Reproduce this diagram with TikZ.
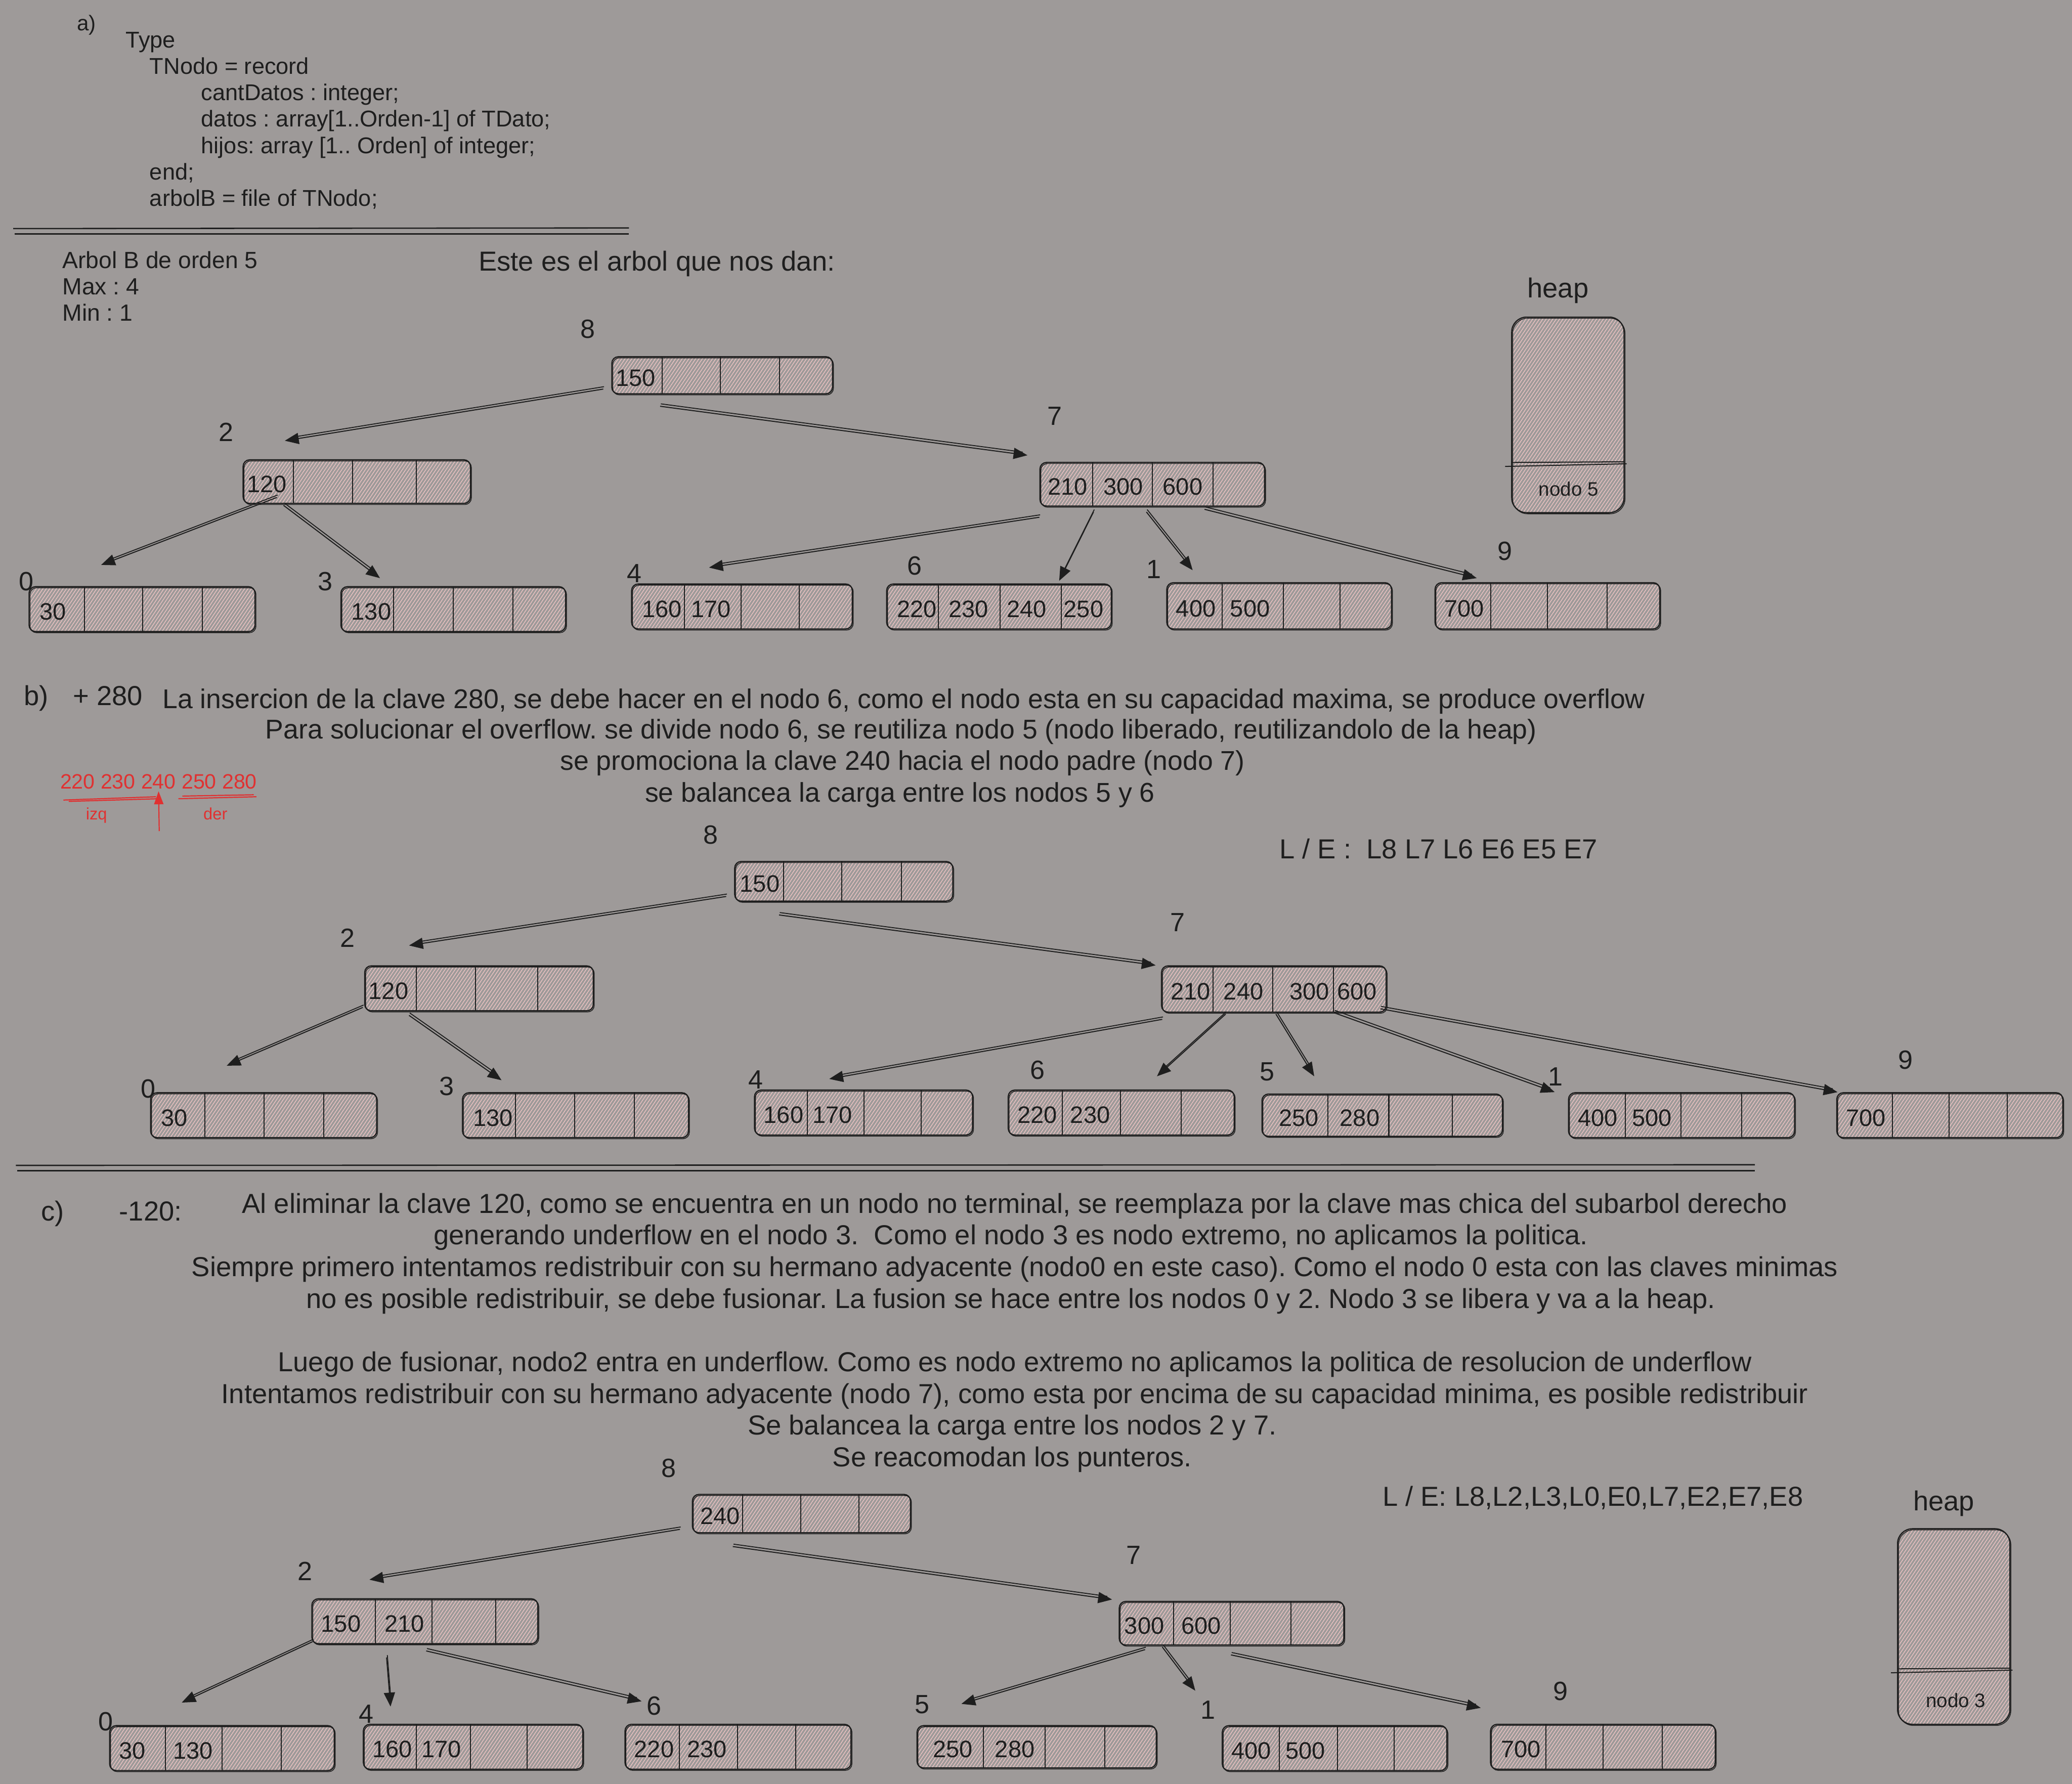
\documentclass[tikz,border=0pt]{standalone}
\usepackage{fontspec}
\setmainfont{Liberation Sans}
\usetikzlibrary{fit,arrows.meta,patterns.meta}
\definecolor{bg}{HTML}{9E9A99}
\definecolor{ink}{HTML}{1E1E1E}
\definecolor{hatch}{HTML}{F6C8C8}
\definecolor{redink}{HTML}{E03131}
\frenchspacing

\newcommand\fcode{\fontsize{12.3}{15}\selectfont}
\newcommand\fbody{\fontsize{14.8}{17}\selectfont}
\newcommand\fbodyb{\fontsize{14.6}{17}\selectfont}
\newcommand\flabel{\fontsize{14.2}{17}\selectfont}
\newcommand\fkey{\fontsize{12.8}{15}\selectfont}
\newcommand\fsmall{\fontsize{10.5}{12}\selectfont}
\newcommand\fred{\fontsize{11.2}{13}\selectfont}
\newcommand\ftiny{\fontsize{8.9}{10}\selectfont}

\tikzset{
  bbox/.style={draw=ink, line width=0.65pt, rounded corners=3.5pt, inner sep=0pt,
    pattern={Lines[angle=56,distance=1.5pt,line width=0.32pt]}, pattern color=hatch,
    postaction={draw=ink, line width=0.4pt, transform canvas={shift={(0.5pt,-0.6pt)}}}},
  hbox/.style={bbox, rounded corners=8pt},
  divline/.style={draw=ink, line width=0.55pt},
  keytext/.style={font=\fkey, text=ink, inner sep=0pt},
  lbl/.style={font=\flabel, text=ink, inner sep=0pt},
  txt/.style={font=\fbody, text=ink, inner sep=0pt, anchor=base west},
  ctxt/.style={font=\fbody, text=ink, inner sep=0pt, anchor=base},
  code/.style={font=\fcode, text=ink, inner sep=0pt, anchor=base west},
  smalltxt/.style={font=\fsmall, text=ink, inner sep=0pt},
  redtxt/.style={font=\fred, text=redink, inner sep=1pt},
  redsmall/.style={font=\ftiny, text=redink, inner sep=0pt},
  redline/.style={draw=redink, line width=0.6pt},
  redarrow/.style={draw=redink, line width=0.6pt, -{Triangle[length=7pt,width=5pt]}},
  rule/.style={draw=ink, line width=0.7pt},
  conn/.style={draw=ink, line width=0.55pt, -{Triangle[length=7.5pt,width=6pt]},
    postaction={draw=ink, line width=0.5pt, -, shorten >=3pt, transform canvas={shift={(0.4pt,1.3pt)}}}},
}

\newcommand\bnode[7]{%
  \node[bbox, fit={(#2,#3)(#4,#5)}] (#1) {};
  \foreach \dx in {#6} {\draw[divline] (\dx,#3) -- (\dx,#5);}
  \foreach \kx/\kt [count=\ki] in {#7} {\node[keytext] (#1k\ki) at (\kx,{(#3+#5)/2+2}) {\kt};}
}

\begin{document}
\begin{tikzpicture}[x=0.025cm,y=-0.025cm]
\path[use as bounding box, fill=bg] (0,0) rectangle (1568,1350);

% ---------------- a) ----------------
\node[code, font=\fontsize{11.5}{13}\selectfont] (ta) at (58,23) {a)};
\node[code] (c1) at (95,36) {Type};
\node[code] (c2) at (113,56) {TNodo = record};
\node[code] (c3) at (152,76) {cantDatos : integer;};
\node[code] (c4) at (152,96) {datos : array[1..Orden-1] of TDato;};
\node[code] (c5) at (152,116) {hijos: array [1.. Orden] of integer;};
\node[code] (c6) at (113,136) {end;};
\node[code] (c7) at (113,156) {arbolB = file of TNodo;};
\draw[rule] (10,173) -- (476,172.5);
\draw[rule] (11,177) -- (476,177);

\node[code, font=\fontsize{12.6}{15}\selectfont] (o1) at (47,203) {Arbol B de orden 5};
\node[code, font=\fontsize{12.6}{15}\selectfont] (o2) at (47,223) {Max : 4};
\node[code, font=\fontsize{12.6}{15}\selectfont] (o3) at (47,243) {Min : 1};
\node[txt] (este) at (362,205) {Este es el arbol que nos dan:};

\node[lbl, font=\fbody] (heapAl) at (1179,220) {heap};
\node[hbox, fit={(1144,240)(1229,388)}] (heapA) {};
\draw[divline] (1139,353) -- (1231,351);
\draw[divline] (1144,350) -- (1229,349.5);
\node[smalltxt] (heapAt) at (1187,370) {nodo 5};

% tree a
\bnode{a8}{463}{270}{630}{298}{501,545,590}{481/150}
\bnode{a2}{184}{348}{356}{381}{222,267,315}{202/120}
\bnode{a7}{787}{350}{957}{383}{827,872,918}{808/210,850/300,895/600}
\bnode{a0}{22}{444}{193}{478}{64,108,153}{40/30}
\bnode{a3}{258}{444}{428}{478}{298,343,388}{281/130}
\bnode{a4}{478}{442}{645}{476}{518,561,605}{501/160,538/170}
\bnode{a6}{671}{442}{841}{476}{710,757,803}{694/220,733/230,777/240,820/250}
\bnode{a1}{883}{441}{1053}{476}{925,971,1014}{905/400,946/500}
\bnode{a9}{1086}{441}{1256}{476}{1128,1171,1216}{1108/700}

\node[lbl] (la8) at (445,249) {8};
\node[lbl] (la2) at (171,327) {2};
\node[lbl] (la7) at (798,315) {7};
\node[lbl] (la0) at (20,440) {0};
\node[lbl] (la3) at (246,440) {3};
\node[lbl] (la4) at (480,434) {4};
\node[lbl] (la6) at (692,428) {6};
\node[lbl] (la1) at (873,431) {1};
\node[lbl] (la9) at (1139,417) {9};

\draw[conn] ([shift={(-6,-4)}]a8.south west) -- ([shift={(32,-14)}]a2.north west);
\draw[conn] ([shift={(37,9)}]a8.south west) -- ([shift={(-9,-5)}]a7.north west);
\draw[conn] ([shift={(26,-5)}]a2.south west) -- ([shift={(55,-16)}]a0.north west);
\draw[conn] ([shift={(31,1)}]a2.south west) -- ([shift={(30,-6)}]a3.north west);
\draw[conn] ([shift={(0,8)}]a7.south west) -- ([shift={(59,-12)}]a4.north west);
\draw[conn] ([shift={(41,4)}]a7.south west) -- ([shift={(131,-2)}]a6.north west);
\draw[conn] ([shift={(81,4)}]a7.south west) -- ([shift={(20,-9)}]a1.north west);
\draw[conn] ([shift={(125,2)}]a7.south west) -- ([shift={(32,-3)}]a9.north west);

% ---------------- b) ----------------
\node[txt] (tb) at (18,534) {b)};
\node[txt] (tb2) at (55,534) {+ 280};
\node[ctxt, font=\fbodyb] (pb1) at (684,536) {La insercion de la clave 280, se debe hacer en el nodo 6, como el nodo esta en su capacidad maxima, se produce overflow};
\node[ctxt, font=\fbodyb] (pb2) at (682,559) {Para solucionar el overflow. se divide nodo 6, se reutiliza nodo 5 (nodo liberado, reutilizandolo de la heap)};
\node[ctxt, font=\fbodyb] (pb3) at (683,583) {se promociona la clave 240 hacia el nodo padre (nodo 7)};
\node[ctxt, font=\fbodyb] (pb4) at (681,607) {se balancea la carga entre los nodos 5 y 6};

\node[redtxt, anchor=base] (redseq) at (120,597) {220 230 240 250 280};
\draw[redline] (48,605.5) -- (118,603);
\draw[redline] (52,606.5) -- (120,604.5);
\draw[redline] (135,604.5) -- (194,603);
\draw[redline] (138,602.5) -- (192,601.5);
\node[redsmall] (izq) at (73,617) {izq};
\node[redsmall] (der) at (163,616) {der};
\coordinate (redtail) at (120.5,629);
\draw[redarrow] (redtail) -- (redseq.south);

\node[txt] (leb) at (968,650) {L / E :\ \ L8 L7 L6 E6 E5 E7};

% tree b
\bnode{b8}{556}{652}{721}{682}{593,637,682}{575/150}
\bnode{b2}{276}{731}{449}{765}{315,360,407}{294/120}
\bnode{b7}{879}{731}{1049}{766}{918,963,1009}{901/210,941/240,991/300,1027/600}
\bnode{b0}{114}{827}{285}{861}{155,200,245}{132/30}
\bnode{b3}{350}{827}{521}{861}{390,435,480}{373/130}
\bnode{b4}{571}{825}{736}{859}{611,654,697}{593/160,630/170}
\bnode{b6}{763}{825}{934}{859}{804,848,894}{785/220,825/230}
\bnode{b5}{955}{828}{1137}{860}{1005,1051,1099}{983/250,1029/280}
\bnode{b1}{1187}{827}{1358}{861}{1230,1272,1318}{1209/400,1250/500}
\bnode{b9}{1390}{827}{1561}{861}{1432,1475,1519}{1412/700}

\node[lbl] (lb8) at (538,632) {8};
\node[lbl] (lb2) at (263,710) {2};
\node[lbl] (lb7) at (891,698) {7};
\node[lbl] (lb0) at (112,824) {0};
\node[lbl] (lb3) at (338,822) {3};
\node[lbl] (lb4) at (572,817) {4};
\node[lbl] (lb6) at (785,810) {6};
\node[lbl] (lb5) at (959,811) {5};
\node[lbl] (lb1) at (1177,815) {1};
\node[lbl] (lb9) at (1442,802) {9};

\draw[conn] ([shift={(-6,-4)}]b8.south west) -- ([shift={(34,-15)}]b2.north west);
\draw[conn] ([shift={(34,10)}]b8.south west) -- ([shift={(-4,0)}]b7.north west);
\draw[conn] ([shift={(-1,-3)}]b2.south west) -- ([shift={(58,-20)}]b0.north west);
\draw[conn] ([shift={(34,3)}]b2.south west) -- ([shift={(30,-9)}]b3.north west);
\draw[conn] ([shift={(1,5)}]b7.south west) -- ([shift={(57,-8)}]b4.north west);
\draw[conn] ([shift={(49,1)}]b7.south west) -- ([shift={(113,-10)}]b6.north west);
\draw[conn] ([shift={(87,1)}]b7.south west) -- ([shift={(40,-13)}]b5.north west);
\draw[conn] ([shift={(131,0)}]b7.south west) -- ([shift={(-10,0)}]b1.north west);
\draw[conn] ([shift={(166,-3)}]b7.south west) -- ([shift={(1,0)}]b9.north west);

\draw[rule] (12,882) -- (1328,881.5);
\draw[rule] (13,886) -- (1328,886);

% ---------------- c) ----------------
\node[txt] (tc) at (31,924) {c)};
\node[txt] (tc2) at (90,924) {-120:};
\node[ctxt] (pc1) at (768,918) {Al eliminar la clave 120, como se encuentra en un nodo no terminal, se reemplaza por la clave mas chica del subarbol derecho};
\node[ctxt] (pc2) at (765,942) {generando underflow en el nodo 3.\ \ Como el nodo 3 es nodo extremo, no aplicamos la politica.};
\node[ctxt] (pc3) at (768,966) {Siempre primero intentamos redistribuir con su hermano adyacente (nodo0 en este caso). Como el nodo 0 esta con las claves minimas};
\node[ctxt] (pc4) at (765,990) {no es posible redistribuir, se debe fusionar. La fusion se hace entre los nodos 0 y 2. Nodo 3 se libera y va a la heap.};
\node[ctxt] (pc6) at (768,1038) {Luego de fusionar, nodo2 entra en underflow. Como es nodo extremo no aplicamos la politica de resolucion de underflow};
\node[ctxt] (pc7) at (768,1062) {Intentamos redistribuir con su hermano adyacente (nodo 7), como esta por encima de su capacidad minima, es posible redistribuir};
\node[ctxt] (pc8) at (766,1086) {Se balancea la carga entre los nodos 2 y 7.};
\node[ctxt] (pc9) at (766,1110) {Se reacomodan los punteros.};

\node[txt] (lec) at (1046,1140) {L / E: L8,L2,L3,L0,E0,L7,E2,E7,E8};

\node[lbl, font=\fbody] (heapCl) at (1471,1138) {heap};
\node[hbox, fit={(1436,1157)(1521,1305)}] (heapC) {};
\draw[divline] (1431,1266) -- (1523,1264);
\draw[divline] (1436,1263) -- (1521,1262.5);
\node[smalltxt] (heapCt) at (1480,1287) {nodo 3};

% tree c
\bnode{c8}{524}{1131}{689}{1160}{562,606,650}{545/240}
\bnode{c2}{236}{1210}{407}{1244}{284,327,375}{258/150,306/210}
\bnode{c7}{847}{1212}{1017}{1245}{888,931,977}{866/300,909/600}
\bnode{c0}{83}{1306}{253}{1340}{125,168,213}{100/30,146/130}
\bnode{c4}{275}{1305}{441}{1339}{315,356,399}{297/160,334/170}
\bnode{c6}{473}{1305}{644}{1339}{514,558,602}{495/220,535/230}
\bnode{c5}{694}{1306}{875}{1338}{744,791,836}{721/250,768/280}
\bnode{c1}{925}{1306}{1095}{1340}{968,1012,1055}{947/400,988/500}
\bnode{c9}{1128}{1305}{1298}{1339}{1170,1213,1258}{1151/700}

\node[lbl] (lc8) at (506,1111) {8};
\node[lbl] (lc2) at (231,1189) {2};
\node[lbl] (lc7) at (858,1177) {7};
\node[lbl] (lc0) at (80,1303) {0};
\node[lbl] (lc4) at (277,1297) {4};
\node[lbl] (lc6) at (495,1291) {6};
\node[lbl] (lc5) at (698,1290) {5};
\node[lbl] (lc1) at (914,1294) {1};
\node[lbl] (lc9) at (1181,1280) {9};

\draw[conn] ([shift={(-9,-3)}]c8.south west) -- ([shift={(44,-14)}]c2.north west);
\draw[conn] ([shift={(31,10)}]c8.south west) -- ([shift={(-5,-1)}]c7.north west);
\draw[conn] ([shift={(1,-2)}]c2.south west) -- ([shift={(55,-17)}]c0.north west);
\draw[conn] ([shift={(57,10)}]c2.south west) -- ([shift={(21,-13)}]c4.north west);
\draw[conn] ([shift={(87,5)}]c2.south west) -- ([shift={(13,-17)}]c6.north west);
\draw[conn] ([shift={(20,3)}]c7.south west) -- ([shift={(34,-16)}]c5.north west);
\draw[conn] ([shift={(33,1)}]c7.south west) -- ([shift={(-20,-26)}]c1.north west);
\draw[conn] ([shift={(85,7)}]c7.south west) -- ([shift={(-7,-12)}]c9.north west);
\end{tikzpicture}
\end{document}
